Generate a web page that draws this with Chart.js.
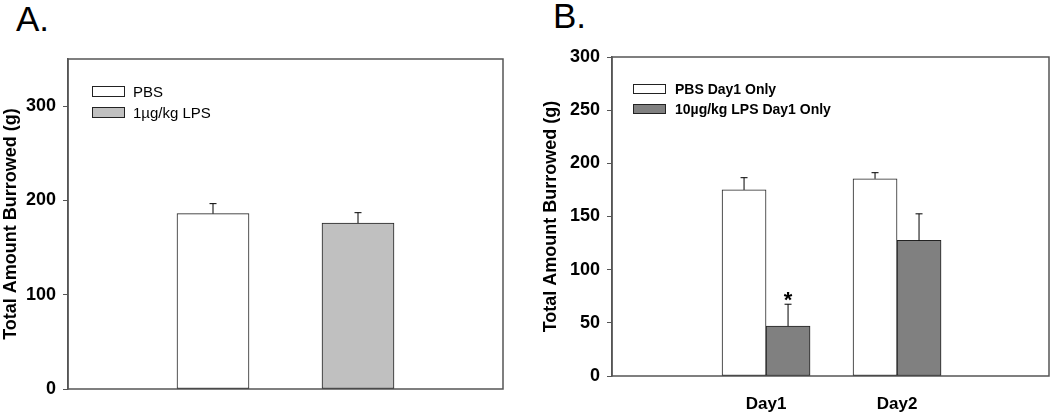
<!DOCTYPE html>
<html>
<head>
<meta charset="utf-8">
<script src="https://cdn.jsdelivr.net/npm/chart.js@4"></script>
<style>
  body { margin: 0; background: #fff; width: 1050px; height: 414px; position: relative; overflow: hidden; }
  .panel { position: absolute; top: 0; height: 414px; }
  .letter { position: absolute; font-family: "Liberation Sans", Arial, sans-serif; font-size: 35px; color: #000; line-height: 1; }
</style>
</head>
<body>
<div class="letter" style="left:16px; top:1px;">A.</div>
<div class="letter" style="left:553px; top:-2px;">B.</div>
<div class="panel" style="left:0; width:520px;"><canvas id="chartA"></canvas></div>
<div class="panel" style="left:520px; width:530px;"><canvas id="chartB"></canvas></div>
<script>
// Panel A data
const groupsA = ['PBS', '1\u00b5g/kg LPS'];
const meansA = [186, 176];
const errorsA = [10.6, 11];

// Panel B data
const days = ['Day1', 'Day2'];
const pbsB = [175, 185.5];
const pbsErrB = [11.5, 5.7];
const lpsB = [47, 127.5];
const lpsErrB = [20.5, 25];
const starsB = ['*', ''];   // significance marks over the LPS bars

const FONT = '"Liberation Sans", Arial, sans-serif';

// frame around the plot area
const framePlugin = {
    id: 'frame',
    beforeDatasetsDraw(chart) {
        const a = chart.chartArea, ctx = chart.ctx;
        ctx.save();
        ctx.strokeStyle = '#555';
        ctx.lineWidth = 1.5;
        ctx.strokeRect(a.left, a.top, a.right - a.left, a.bottom - a.top);
        ctx.restore();
    }
};

// upper error bars + marks
const errorPlugin = {
    id: 'errbars',
    afterDatasetsDraw(chart) {
        const ctx = chart.ctx, y = chart.scales.y;
        ctx.save();
        chart.data.datasets.forEach((ds, di) => {
            const meta = chart.getDatasetMeta(di);
            meta.data.forEach((bar, i) => {
                const v = ds.data[i].y, e = ds.errors[i];
                const top = y.getPixelForValue(v + e);
                ctx.strokeStyle = '#000';
                ctx.lineWidth = 1;
                ctx.beginPath();
                ctx.moveTo(bar.x, bar.y);
                ctx.lineTo(bar.x, top);
                ctx.moveTo(bar.x - 3.5, top);
                ctx.lineTo(bar.x + 3.5, top);
                ctx.stroke();
                if (ds.marks && ds.marks[i]) {
                    ctx.fillStyle = '#000';
                    ctx.font = 'bold 22px ' + FONT;
                    ctx.textAlign = 'center';
                    ctx.textBaseline = 'alphabetic';
                    ctx.fillText(ds.marks[i], bar.x, top + 3);
                }
            });
        });
        ctx.restore();
    }
};

// legend drawn inside the plot area
const insideLegend = {
    id: 'insideLegend',
    afterDraw(chart, args, opts) {
        const a = chart.chartArea, ctx = chart.ctx;
        ctx.save();
        chart.data.datasets.forEach((ds, i) => {
            const bx = a.left + opts.dx, by = a.top + opts.dy + i * opts.gap;
            ctx.fillStyle = ds.backgroundColor;
            ctx.fillRect(bx, by, opts.w, opts.h);
            ctx.strokeStyle = '#222';
            ctx.lineWidth = 1;
            ctx.strokeRect(bx + 0.5, by + 0.5, opts.w - 1, opts.h - 1);
            ctx.fillStyle = '#000';
            ctx.font = opts.font;
            ctx.textAlign = 'left';
            ctx.textBaseline = 'middle';
            ctx.fillText(ds.label, bx + opts.w + opts.textGap, by + opts.h / 2 + 1);
        });
        ctx.restore();
    }
};

function yScale(max, step, width) {
    return {
        min: 0, max: max,
        ticks: { stepSize: step, includeBounds: false, color: '#000', padding: 7, font: { family: FONT, size: 18, weight: 'bold' } },
        grid: { drawOnChartArea: false, tickLength: 5, color: '#555' },
        border: { display: true, color: '#555', width: 1.5 },
        title: { display: true, text: 'Total Amount Burrowed (g)', color: '#000', padding: 0, font: { family: FONT, size: 18, weight: 'bold' } },
        afterFit: s => { s.width = width; }
    };
}

new Chart(document.getElementById('chartA'), {
    type: 'bar',
    data: {
        datasets: [
            { label: groupsA[0], data: [{ x: 1, y: meansA[0] }], errors: [errorsA[0]], backgroundColor: '#ffffff' },
            { label: groupsA[1], data: [{ x: 2, y: meansA[1] }], errors: [errorsA[1]], backgroundColor: '#c0c0c0' }
        ]
    },
    options: {
        responsive: true, maintainAspectRatio: false, animation: false,
        datasets: { bar: { grouped: false, barThickness: 72, borderColor: '#222', borderWidth: 1, borderSkipped: false } },
        layout: { padding: { top: 59, right: 17, left: 0, bottom: 0 } },
        scales: {
            x: { type: 'linear', min: 0, max: 3, offset: false,
                 ticks: { display: false }, grid: { display: false }, border: { display: false },
                 afterFit: s => { s.height = 25; } },
            y: yScale(350, 100, 68)
        },
        plugins: { legend: { display: false }, tooltip: { enabled: false },
            insideLegend: { dx: 24, dy: 27, w: 33, h: 11, gap: 21, textGap: 8, font: '15px ' + FONT } }
    },
    plugins: [framePlugin, errorPlugin, insideLegend]
});

new Chart(document.getElementById('chartB'), {
    type: 'bar',
    data: {
        datasets: [
            { label: 'PBS Day1 Only', data: days.map((d, i) => ({ x: i + 1, y: pbsB[i] })), errors: pbsErrB, backgroundColor: '#ffffff' },
            { label: '10\u00b5g/kg LPS Day1 Only', data: days.map((d, i) => ({ x: i + 1, y: lpsB[i] })), errors: lpsErrB, marks: starsB, backgroundColor: '#808080' }
        ]
    },
    options: {
        responsive: true, maintainAspectRatio: false, animation: false,
        datasets: { bar: { barThickness: 44, borderColor: '#222', borderWidth: 1, borderSkipped: false } },
        layout: { padding: { top: 57, right: 1, left: 20, bottom: 0 } },
        scales: {
            x: { type: 'linear', min: -0.176, max: 3.16, offset: false,
                 ticks: { stepSize: 1, includeBounds: false, maxRotation: 0, autoSkip: false, padding: 10, color: '#000',
                          font: { family: FONT, size: 17, weight: 'bold' },
                          callback: v => days[v - 1] || '' },
                 grid: { display: false }, border: { display: false },
                 afterFit: s => { s.height = 38; } },
            y: yScale(300, 50, 72)
        },
        plugins: { legend: { display: false }, tooltip: { enabled: false },
            insideLegend: { dx: 21, dy: 27, w: 33, h: 10, gap: 20, textGap: 9, font: 'bold 14px ' + FONT } }
    },
    plugins: [framePlugin, errorPlugin, insideLegend]
});
</script>
</body>
</html>
